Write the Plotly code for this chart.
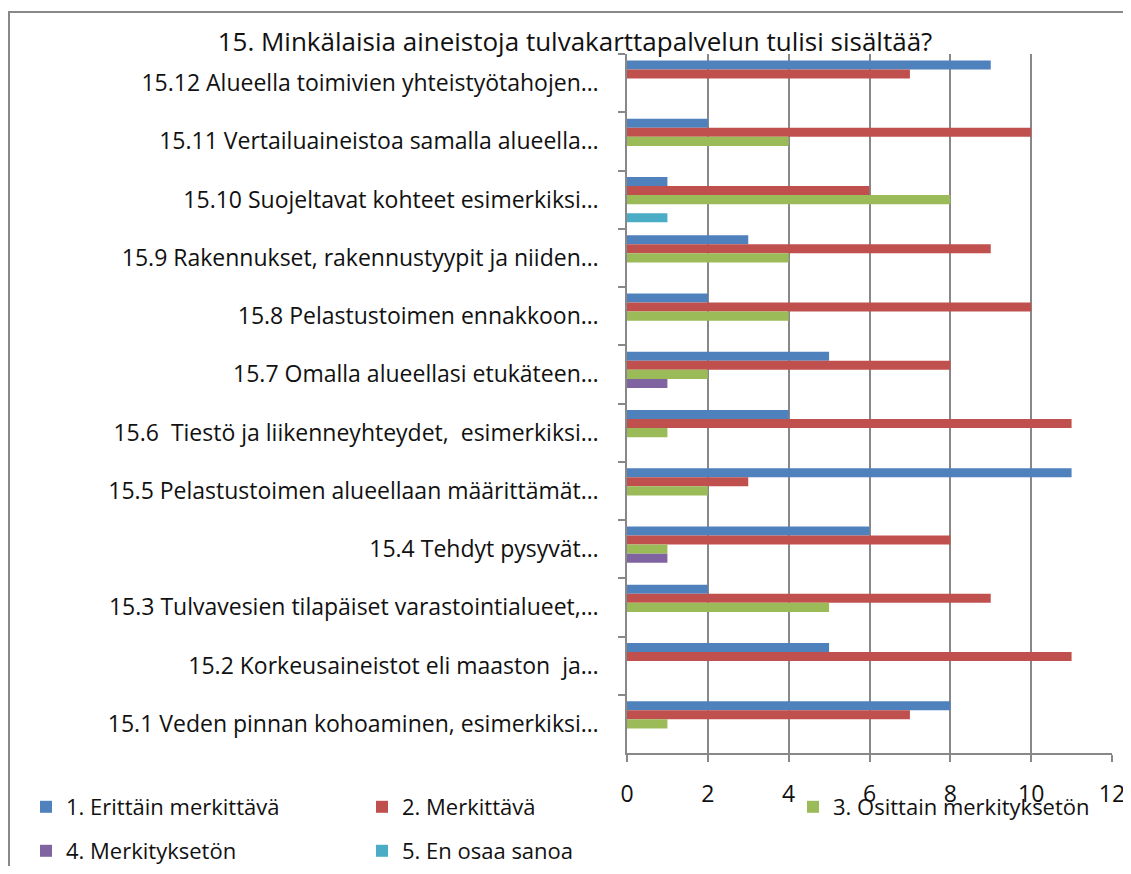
import plotly.graph_objects as go

categories = [
    "15.12 Alueella toimivien yhteistyötahojen…",
    "15.11 Vertailuaineistoa samalla alueella…",
    "15.10 Suojeltavat kohteet esimerkiksi…",
    "15.9 Rakennukset, rakennustyypit ja niiden…",
    "15.8 Pelastustoimen ennakkoon…",
    "15.7 Omalla alueellasi etukäteen…",
    "15.6  Tiestö ja liikenneyhteydet,  esimerkiksi…",
    "15.5 Pelastustoimen alueellaan määrittämät…",
    "15.4 Tehdyt pysyvät…",
    "15.3 Tulvavesien tilapäiset varastointialueet,…",
    "15.2 Korkeusaineistot eli maaston  ja…",
    "15.1 Veden pinnan kohoaminen, esimerkiksi…",
]

series_names = [
    "1. Erittäin merkittävä",
    "2. Merkittävä",
    "3. Osittain merkityksetön",
    "4. Merkityksetön",
    "5. En osaa sanoa",
]

erittain = [9, 2, 1, 3, 2, 5, 4, 11, 6, 2, 5, 8]
merkittava = [7, 10, 6, 9, 10, 8, 11, 3, 8, 9, 11, 7]
osittain = [0, 4, 8, 4, 4, 2, 1, 2, 1, 5, 0, 1]
merkitykseton = [0, 0, 0, 0, 0, 1, 0, 0, 1, 0, 0, 0]
en_osaa = [0, 0, 1, 0, 0, 0, 0, 0, 0, 0, 0, 0]

series_values = [erittain, merkittava, osittain, merkitykseton, en_osaa]
colors = ["#4F81BD", "#C0504D", "#9BBB59", "#8064A2", "#4BACC6"]
legend_ids = ["legend", "legend2", "legend3", "legend4", "legend5"]

FONT = "Open Sans"
# figure sized to fit the viewport together with the page's 8px body margin
OFF = 8
W, H = 1131 - OFF, 874 - 2 * OFF
L, R, T, B = 627 - OFF, 1112 - OFF, 54 - OFF, 753 - OFF

def px_x(p):
    return (p - OFF - L) / (R - L)

def px_y(p):
    return (B - (p - OFF)) / (B - T)

fig = go.Figure()
for name, vals, col, lg in zip(series_names, series_values, colors, legend_ids):
    fig.add_trace(go.Bar(
        y=categories, x=vals, name=name, orientation="h",
        marker=dict(color=col, line=dict(width=0)),
        legend=lg,
    ))

# legend left edges / row centres in screen pixels
legend_pos = [(26, 807), (362, 807), (793, 807), (26, 851), (362, 851)]
legend_layouts = {}
for lg, (lx, ly) in zip(legend_ids, legend_pos):
    legend_layouts[lg] = dict(
        x=px_x(lx), y=px_y(ly), xanchor="left", yanchor="middle",
        font=dict(family=FONT, size=22, color="#111111"),
        bgcolor="rgba(0,0,0,0)", itemclick=False, itemdoubleclick=False,
    )

fig.update_layout(
    width=W, height=H,
    margin=dict(l=L, r=W - R, t=T, b=H - B, autoexpand=False),
    paper_bgcolor="white", plot_bgcolor="white",
    barmode="group", bargap=0.22, bargroupgap=0,
    showlegend=True,
    title=dict(
        text="15. Minkälaisia aineistoja tulvakarttapalvelun tulisi sisältää?",
        x=(575 - OFF) / W, y=1 - (42 - OFF) / H,
        xanchor="center", yanchor="middle",
        xref="container", yref="container",
        font=dict(family=FONT, size=26, color="#111111"),
    ),
    font=dict(family=FONT, color="#111111"),
    xaxis=dict(
        range=[0, 12], dtick=2, tick0=0,
        showgrid=True, gridcolor="#888888", gridwidth=1.5,
        showline=True, linecolor="#888888", linewidth=1.5,
        ticks="outside", ticklen=7, tickcolor="#888888", tickwidth=1.5,
        tickfont=dict(family=FONT, size=23, color="#111111"),
        ticklabelstandoff=13, ticklabeloverflow="allow",
        automargin=False, zeroline=False, fixedrange=True,
    ),
    yaxis=dict(
        categoryorder="array", categoryarray=categories,
        autorange="reversed",
        showline=True, linecolor="#888888", linewidth=1.5,
        ticks="outside", ticklen=7, tickcolor="#888888", tickwidth=1.5,
        tickson="boundaries",
        tickfont=dict(family=FONT, size=23, color="#111111"),
        ticklabelstandoff=22,
        automargin=False, showgrid=False, fixedrange=True,
    ),
    shapes=[dict(
        type="rect", xref="paper", yref="paper",
        x0=px_x(9), x1=px_x(1160), y0=px_y(900), y1=px_y(12),
        line=dict(color="#888888", width=2), fillcolor="rgba(0,0,0,0)",
        layer="below",
    )],
    **legend_layouts,
)

fig.write_html("out.html")
